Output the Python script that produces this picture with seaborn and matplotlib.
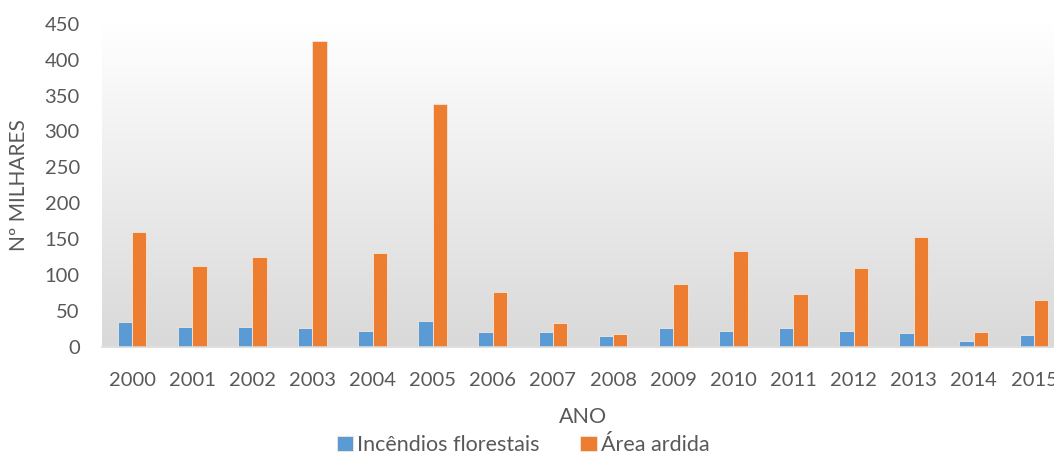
import numpy as np
import pandas as pd
import matplotlib
matplotlib.use("Agg")
import matplotlib.pyplot as plt
from matplotlib.colors import LinearSegmentedColormap
import seaborn as sns

years = ["2000", "2001", "2002", "2003", "2004", "2005", "2006", "2007",
         "2008", "2009", "2010", "2011", "2012", "2013", "2014", "2015"]
incendios = [34.1, 26.9, 26.6, 26.2, 21.9, 35.7, 19.9, 20.3,
             14.9, 26.1, 22.0, 25.2, 21.2, 19.3, 7.1, 15.9]
area = [159.6, 112.3, 124.4, 425.7, 130.1, 338.3, 76.0, 32.6,
        17.6, 87.4, 133.1, 73.8, 110.2, 152.7, 19.9, 64.4]
series_names = ["Incêndios florestais", "Área ardida"]
yticks = [0, 50, 100, 150, 200, 250, 300, 350, 400, 450]

df = pd.DataFrame({
    "ano": years * 2,
    "valor": incendios + area,
    "serie": [series_names[0]] * len(years) + [series_names[1]] * len(years),
})

sns.set_theme(style="white")
plt.rcParams["font.family"] = ["Lato", "DejaVu Sans"]

txt = "#595959"
fig = plt.figure(figsize=(10.54, 4.55), dpi=100)
ax = fig.add_axes([102 / 1054, (455 - 346.5) / 455, 962 / 1054, (346.5 - 24) / 455])

# gradient plot-area background
cmap = LinearSegmentedColormap.from_list("g", ["#FFFFFF", "#D9D9D9"])
grad = np.linspace(0, 1, 256).reshape(-1, 1)
ax.imshow(grad, cmap=cmap, aspect="auto", extent=[0, 1, 0, 1],
          transform=ax.transAxes, zorder=0, origin="upper")

palette = {series_names[0]: "#5B9BD5", series_names[1]: "#ED7D31"}
sns.barplot(data=df, x="ano", y="valor", hue="serie", palette=palette,
            width=0.48, gap=0, ax=ax, saturation=1, zorder=2,
            edgecolor="#F5E6DA", linewidth=0.6)

ax.set_ylim(0, 450)
ax.set_xlim(-0.5, len(years) - 0.5)
ax.set_yticks(yticks)
ax.set_yticklabels([str(v) for v in yticks])
for s in ["top", "right", "left"]:
    ax.spines[s].set_visible(False)
ax.spines["bottom"].set_color("#D9D9D9")
ax.spines["bottom"].set_linewidth(1.2)
ax.tick_params(axis="y", length=0, pad=16, labelsize=14.5, labelcolor=txt)
ax.tick_params(axis="x", length=0, pad=18, labelsize=14.5, labelcolor=txt)
ax.set_ylabel("Nº MILHARES", fontsize=15, color=txt, labelpad=11)
ax.set_xlabel("")
ax.grid(False)

fig.text(583 / 1054, 1 - 417 / 455, "ANO", ha="center", va="center",
         fontsize=15.5, color=txt)

handles, labels = ax.get_legend_handles_labels()
ax.legend_.remove()
fig.legend(handles, labels, loc="center", bbox_to_anchor=(523 / 1054, 1 - 445 / 455),
           ncol=2, frameon=False, fontsize=15.5, labelcolor=txt,
           handlelength=0.75, handleheight=0.75, handletextpad=0.2, columnspacing=1.9)

fig.savefig("out.png", dpi=100)
